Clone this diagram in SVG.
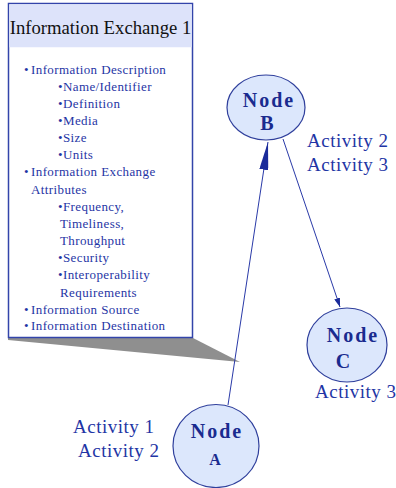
<svg xmlns="http://www.w3.org/2000/svg" width="396" height="488" viewBox="0 0 396 488">
<defs>
<style>
.body{font-family:"Liberation Serif","Times New Roman",serif;font-size:13px;fill:#1f35a5;letter-spacing:0.4px}
.title{font-family:"Liberation Serif","Times New Roman",serif;font-size:18.7px;fill:#111}
.node{fill:#dce7fc;stroke:#2f3f9c;stroke-width:1.2}
.nt{font-family:"Liberation Serif","Times New Roman",serif;font-weight:bold;fill:#1a2b8f;text-anchor:middle}
.act{font-family:"Liberation Serif","Times New Roman",serif;font-size:19px;fill:#1f35a5;letter-spacing:0.5px}
.edge{stroke:#2a3aa8;stroke-width:1;fill:none}
</style>
<marker id="big" viewBox="0 0 28 9" refX="28" refY="4.5" markerWidth="28" markerHeight="9" markerUnits="userSpaceOnUse" orient="auto">
<path d="M0,0 L28,4.5 L0,9 Z" fill="#1a2b9a"/>
</marker>
<marker id="small" viewBox="0 0 9 6" refX="9" refY="3" markerWidth="9" markerHeight="6" markerUnits="userSpaceOnUse" orient="auto">
<path d="M0,0 L9,3 L0,6 Z" fill="#1a2b9a"/>
</marker>
</defs>
<g id="callout">
<polygon points="8,338 193,338 240,362 8,340" fill="#8f8f8f"/>
<rect x="8.5" y="3.5" width="184" height="334" fill="#fff" stroke="#3344aa" stroke-width="1.5"/>
<rect x="9.25" y="4.25" width="182.5" height="43" fill="#dde3fa"/>
<text class="title" x="100.5" y="34" text-anchor="middle">Information Exchange 1</text>
<text class="body">
<tspan x="24" y="74">•</tspan><tspan x="31" y="74">Information Description</tspan>
<tspan x="58" y="91">•Name/Identifier</tspan>
<tspan x="58" y="108">•Definition</tspan>
<tspan x="58" y="125">•Media</tspan>
<tspan x="58" y="142">•Size</tspan>
<tspan x="58" y="159">•Units</tspan>
<tspan x="24" y="176">•</tspan><tspan x="31" y="176">Information Exchange</tspan>
<tspan x="31" y="193.5">Attributes</tspan>
<tspan x="58" y="211">•Frequency,</tspan>
<tspan x="60" y="227.5">Timeliness,</tspan>
<tspan x="60" y="244.5">Throughput</tspan>
<tspan x="58" y="262">•Security</tspan>
<tspan x="58" y="279">•Interoperability</tspan>
<tspan x="60" y="296.5">Requirements</tspan>
<tspan x="24" y="313.5">•</tspan><tspan x="31" y="313.5">Information Source</tspan>
<tspan x="24" y="330">•</tspan><tspan x="31" y="330">Information Destination</tspan>
</text>
</g>
<g id="connectors">
<line class="edge" x1="228" y1="405" x2="268" y2="142" marker-end="url(#big)"/>
<line class="edge" x1="283" y1="139" x2="340" y2="307" marker-end="url(#small)"/>
</g>
<g id="nodeB">
<ellipse class="node" cx="266" cy="107.5" rx="39" ry="32.5"/>
<text class="nt" x="269" y="107" font-size="20" letter-spacing="2">Node</text>
<text class="nt" x="267" y="130" font-size="20">B</text>
<text class="act" x="307" y="147">Activity 2</text>
<text class="act" x="307" y="171">Activity 3</text>
</g>
<g id="nodeC">
<ellipse class="node" cx="347" cy="345" rx="40" ry="37"/>
<text class="nt" x="353" y="342" font-size="20" letter-spacing="2">Node</text>
<text class="nt" x="343" y="368" font-size="20">C</text>
<text class="act" x="315" y="398">Activity 3</text>
</g>
<g id="nodeA">
<ellipse class="node" cx="216" cy="446" rx="43" ry="41.5"/>
<text class="nt" x="217" y="438" font-size="20" letter-spacing="2">Node</text>
<text class="nt" x="215" y="465" font-size="16">A</text>
<text class="act" x="73" y="433">Activity 1</text>
<text class="act" x="78" y="457">Activity 2</text>
</g>
</svg>
